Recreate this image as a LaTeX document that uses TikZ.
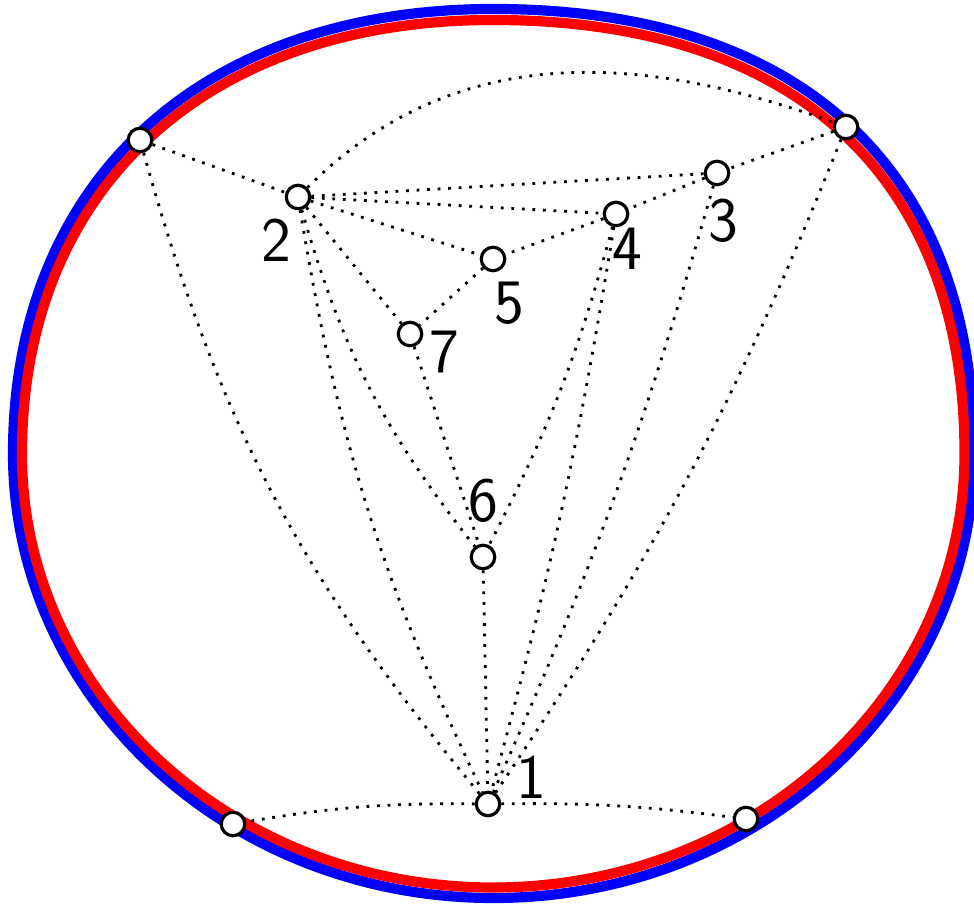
\documentclass[tikz,border=0pt]{standalone}
\begin{document}
\begin{tikzpicture}[
  vtx/.style={circle, draw, fill=white, line width=0.9pt,
              minimum size=0.235cm, inner sep=0pt},
  lbl/.style={inner sep=0pt, font=\fontsize{18}{20}\selectfont\sffamily},
  edg/.style={line width=0.8pt, dash pattern=on 0.8pt off 2.2pt},
  ring/.style={line width=2.9pt}
]
\useasboundingbox (0,0) rectangle (9.74,9.04);
% outer and inner boundary
\draw[ring, blue] (9.74,4.505) .. controls +(0,2.845) and +(3.075,0) .. (4.935,8.95)
  .. controls +(-2.931,0) and +(0,2.711) .. (0.13,4.505)
  .. controls +(0,-2.455) and +(-2.654,0) .. (4.935,0.06)
  .. controls +(2.654,0) and +(0,-2.455) .. cycle;
\draw[ring, red] (9.645,4.50) .. controls +(0,2.78) and +(3.02,0) .. (4.93,8.84)
  .. controls +(-2.876,0) and +(0,2.647) .. (0.22,4.50)
  .. controls +(0,-2.397) and +(-2.604,0) .. (4.93,0.165)
  .. controls +(2.604,0) and +(0,-2.397) .. cycle;
% vertices
\node[vtx] (tl) at (1.40,7.64) {};
\node[vtx] (tr) at (8.46,7.77) {};
\node[vtx] (bl) at (2.33,0.80) {};
\node[vtx] (br) at (7.46,0.85) {};
\node[vtx] (v1) at (4.88,1.00) {};
\node[vtx] (v2) at (2.98,7.07) {};
\node[vtx] (v3) at (7.17,7.31) {};
\node[vtx] (v4) at (6.16,6.90) {};
\node[vtx] (v5) at (4.93,6.45) {};
\node[vtx] (v6) at (4.83,3.47) {};
\node[vtx] (v7) at (4.10,5.70) {};
% labels
\node[lbl] (t1) at ([shift={(0.43,0.27)}]v1) {1};
\node[lbl] (t2) at ([shift={(-0.22,-0.43)}]v2) {2};
\node[lbl] (t3) at ([shift={(0.06,-0.48)}]v3) {3};
\node[lbl] (t4) at ([shift={(0.11,-0.35)}]v4) {4};
\node[lbl] (t5) at ([shift={(0.16,-0.44)}]v5) {5};
\node[lbl] (t6) at ([shift={(0,0.56)}]v6) {6};
\node[lbl] (t7) at ([shift={(0.34,-0.18)}]v7) {7};
% edges
\draw[edg] (tl) -- (v2);
\draw[edg] (tl) to[bend right=12] (v1);
\draw[edg] (v2) to[out=45,in=160] (tr);
\draw[edg] (tr) -- (v3);
\draw[edg] (tr) to[bend left=6] (v1);
\draw[edg] (v2) -- (v3);
\draw[edg] (v2) -- (v4);
\draw[edg] (v2) -- (v5);
\draw[edg] (v2) -- (v7);
\draw[edg] (v2) to[bend right=11] (v6);
\draw[edg] (v2) to[bend right=8] (v1);
\draw[edg] (v3) -- (v4);
\draw[edg] (v3) to[bend left=4] (v1);
\draw[edg] (v4) -- (v5);
\draw[edg] (v4) to[bend left=6] (v6);
\draw[edg] (v4) to[bend left=3] (v1);
\draw[edg] (v5) -- (v7);
\draw[edg] (v7) -- (v6);
\draw[edg] (v6) -- (v1);
\draw[edg] (v1) to[bend right=5] (bl);
\draw[edg] (v1) to[bend left=4] (br);
\end{tikzpicture}
\end{document}
